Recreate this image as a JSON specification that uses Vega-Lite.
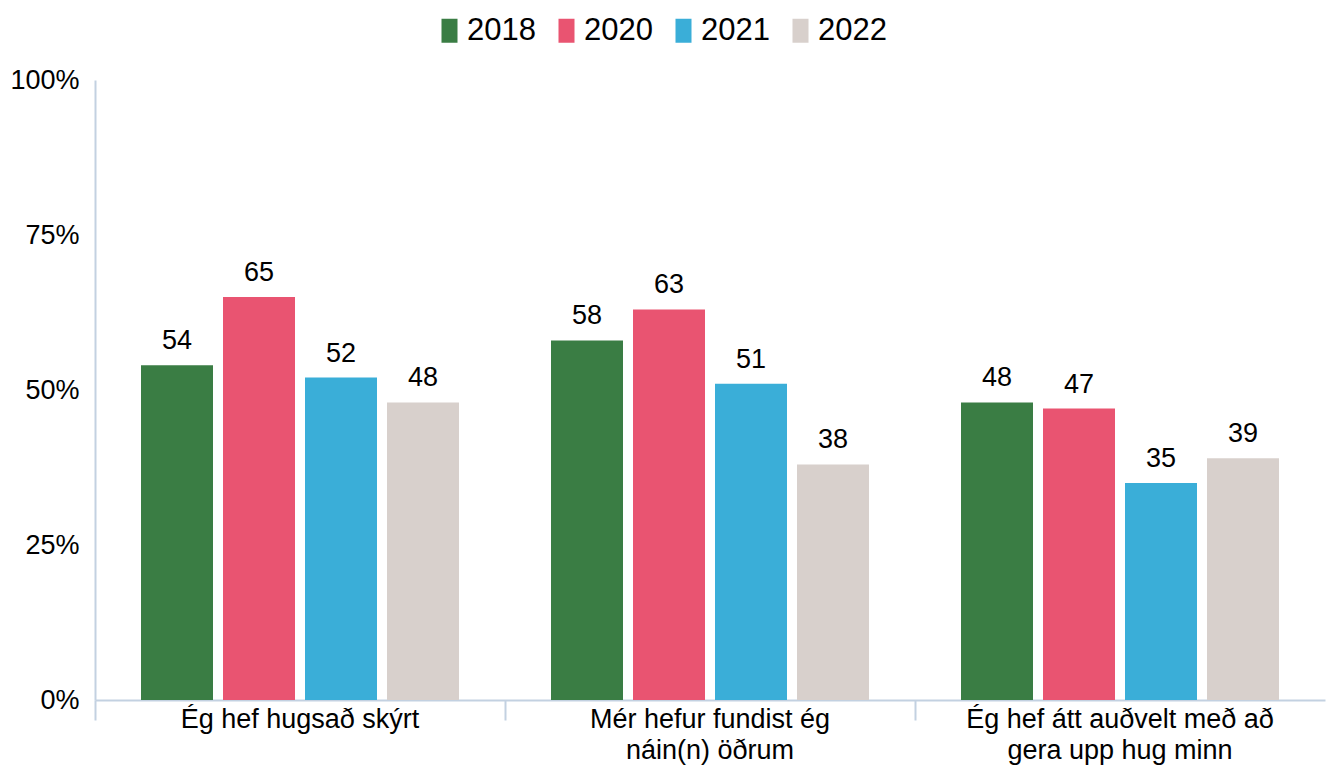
{
  "$schema": "https://vega.github.io/schema/vega-lite/v6.json",
  "width": 1230,
  "height": 620,
  "autosize": "none",
  "padding": {"left": 95, "top": 80, "right": 3, "bottom": 67},
  "config": {
    "view": {"stroke": null},
    "font": "Liberation Sans",
    "legend": {"padding": 0}
  },
  "data": {
    "values": [
      {"category": "Ég hef hugsað skýrt", "year": "2018", "value": 54},
      {"category": "Ég hef hugsað skýrt", "year": "2020", "value": 65},
      {"category": "Ég hef hugsað skýrt", "year": "2021", "value": 52},
      {"category": "Ég hef hugsað skýrt", "year": "2022", "value": 48},
      {"category": "Mér hefur fundist ég náin(n) öðrum", "year": "2018", "value": 58},
      {"category": "Mér hefur fundist ég náin(n) öðrum", "year": "2020", "value": 63},
      {"category": "Mér hefur fundist ég náin(n) öðrum", "year": "2021", "value": 51},
      {"category": "Mér hefur fundist ég náin(n) öðrum", "year": "2022", "value": 38},
      {"category": "Ég hef átt auðvelt með að gera upp hug minn", "year": "2018", "value": 48},
      {"category": "Ég hef átt auðvelt með að gera upp hug minn", "year": "2020", "value": 47},
      {"category": "Ég hef átt auðvelt með að gera upp hug minn", "year": "2021", "value": 35},
      {"category": "Ég hef átt auðvelt með að gera upp hug minn", "year": "2022", "value": 39}
    ]
  },
  "encoding": {
    "x": {
      "field": "category",
      "type": "nominal",
      "sort": ["Ég hef hugsað skýrt", "Mér hefur fundist ég náin(n) öðrum", "Ég hef átt auðvelt með að gera upp hug minn"],
      "scale": {"paddingInner": 0, "paddingOuter": 0},
      "axis": {
        "title": null,
        "labelAngle": 0,
        "labelFontSize": 27,
        "labelColor": "#000000",
        "labelLineHeight": 31,
        "labelPadding": -14,
        "labelLimit": 0,
        "labelExpr": "datum.value == 'Mér hefur fundist ég náin(n) öðrum' ? ['Mér hefur fundist ég', 'náin(n) öðrum'] : datum.value == 'Ég hef átt auðvelt með að gera upp hug minn' ? ['Ég hef átt auðvelt með að', 'gera upp hug minn'] : datum.value",
        "domainColor": "#c3d1e1",
        "domainWidth": 2,
        "tickColor": "#c3d1e1",
        "tickWidth": 2,
        "tickSize": 20,
        "bandPosition": 0,
        "grid": false
      }
    },
    "xOffset": {
      "field": "year",
      "type": "nominal",
      "scale": {"paddingInner": 0.122, "paddingOuter": 0.561}
    },
    "y": {
      "field": "value",
      "type": "quantitative",
      "scale": {"domain": [0, 100], "nice": false},
      "axis": {
        "title": null,
        "values": [0, 25, 50, 75, 100],
        "labelExpr": "datum.value + '%'",
        "labelFontSize": 27,
        "labelColor": "#000000",
        "labelPadding": 16,
        "ticks": false,
        "grid": false,
        "domainColor": "#c3d1e1",
        "domainWidth": 2
      }
    }
  },
  "layer": [
    {
      "mark": {"type": "bar"},
      "encoding": {
        "color": {
          "field": "year",
          "type": "nominal",
          "scale": {
            "domain": ["2018", "2020", "2021", "2022"],
            "range": ["#3a7d44", "#e95471", "#3aaed8", "#d8d0cc"]
          },
          "legend": {
            "title": null,
            "orient": "none",
            "direction": "horizontal",
            "legendX": 339,
            "legendY": -65,
            "symbolType": "M-0.667,-1H0.667V1H-0.667Z",
            "symbolSize": 576,
            "symbolStrokeWidth": 0,
            "labelFontSize": 31,
            "labelColor": "#000000",
            "labelOffset": 2,
            "columnPadding": 15
          }
        }
      }
    },
    {
      "mark": {"type": "text", "baseline": "alphabetic", "dy": -16, "fontSize": 27, "color": "#000000"},
      "encoding": {
        "text": {"field": "value", "type": "quantitative"}
      }
    }
  ]
}
